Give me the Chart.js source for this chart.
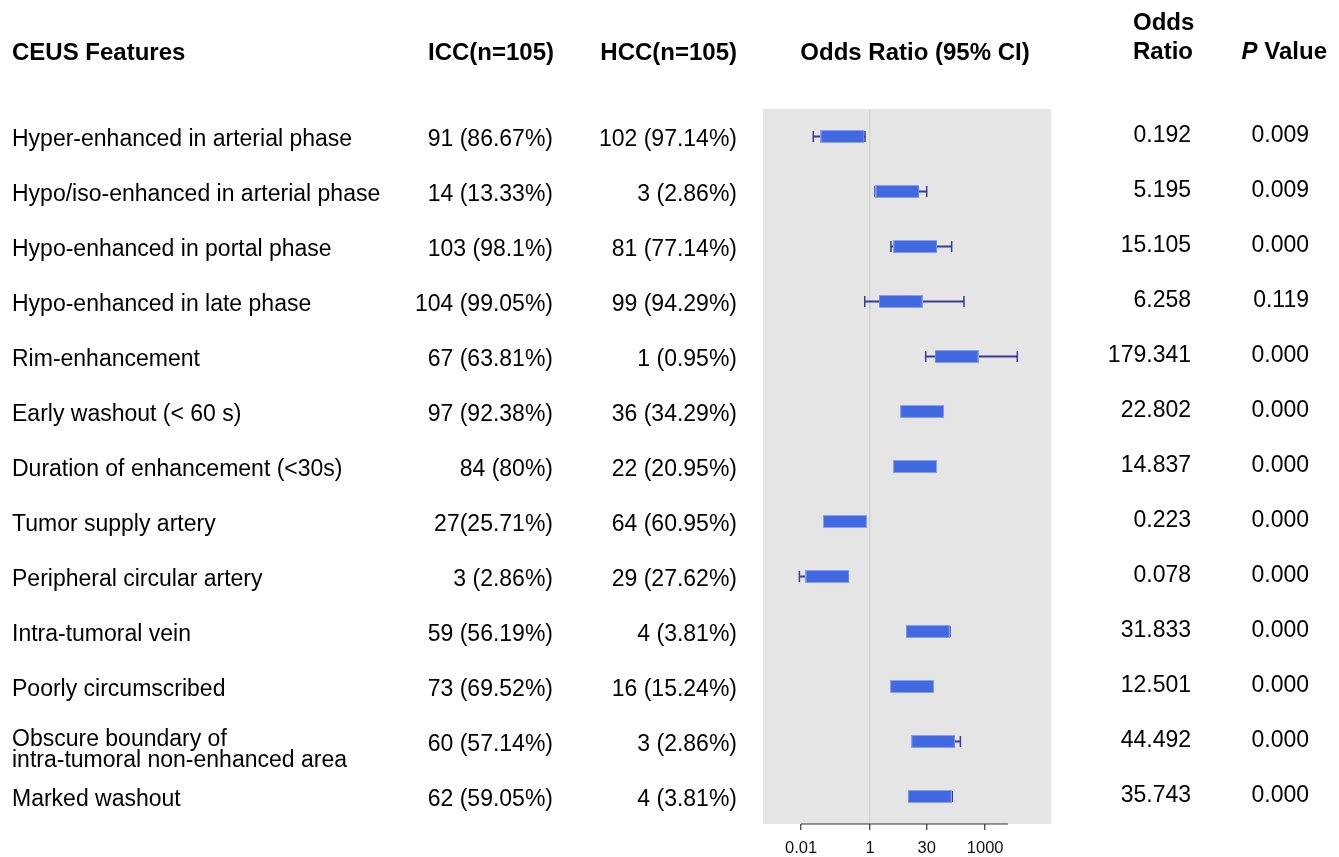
<!DOCTYPE html>
<html>
<head>
<meta charset="utf-8">
<title>CEUS features - odds ratios</title>
<script src="https://cdn.jsdelivr.net/npm/chart.js@4.4.1/dist/chart.umd.min.js"></script>
<style>
  body { margin: 0; background: #fff; }
  #wrap { width: 1339px; height: 857px; position: relative; }
</style>
</head>
<body>
<div id="wrap"><canvas id="forest"></canvas></div>
<script>
const features = [
  "Hyper-enhanced in arterial phase",
  "Hypo/iso-enhanced in arterial phase",
  "Hypo-enhanced in portal phase",
  "Hypo-enhanced in late phase",
  "Rim-enhancement",
  "Early washout (< 60 s)",
  "Duration of enhancement (<30s)",
  "Tumor supply artery",
  "Peripheral circular artery",
  "Intra-tumoral vein",
  "Poorly circumscribed",
  "Obscure boundary of\nintra-tumoral non-enhanced area",
  "Marked washout"
];
const iccText = ["91 (86.67%)", "14 (13.33%)", "103 (98.1%)", "104 (99.05%)", "67 (63.81%)", "97 (92.38%)",
  "84 (80%)", "27(25.71%)", "3 (2.86%)", "59 (56.19%)", "73 (69.52%)", "60 (57.14%)", "62 (59.05%)"];
const hccText = ["102 (97.14%)", "3 (2.86%)", "81 (77.14%)", "99 (94.29%)", "1 (0.95%)", "36 (34.29%)",
  "22 (20.95%)", "64 (60.95%)", "29 (27.62%)", "4 (3.81%)", "16 (15.24%)", "3 (2.86%)", "4 (3.81%)"];
const oddsRatio = [0.192, 5.195, 15.105, 6.258, 179.341, 22.802, 14.837, 0.223, 0.078, 31.833, 12.501, 44.492, 35.743];
const ciLower = [0.0334, 1.35, 3.52, 0.73, 28.2, 10.2, 7.6, 0.123, 0.0145, 11.1, 5.5, 13.5, 12.5];
const ciUpper = [0.74, 30, 134, 280, 6860, 51, 29, 0.40, 0.26, 121, 28, 226, 139];
const pValues = ["0.009", "0.009", "0.000", "0.119", "0.000", "0.000", "0.000",
  "0.000", "0.000", "0.000", "0.000", "0.000", "0.000"];
const tickValues = [0.016, 1, 30, 1000];
const tickLabels = ["0.01", "1", "30", "1000"];
const axisSpan = [0.016, 3900];

const FONT = '"Liberation Sans", Arial, sans-serif';
const BOX = '#4169e1';
const WHISKER = '#3a3a9a';

// fixed size box marker, drawn centred on the odds ratio
const boxMark = document.createElement('canvas');
boxMark.width = 44;
boxMark.height = 13;
const bctx = boxMark.getContext('2d');
bctx.fillStyle = '#8aa0ee';
bctx.fillRect(0, 0, 44, 13);
bctx.fillStyle = BOX;
bctx.fillRect(1, 1, 42, 11);

const capPoints = ciLower.map((v, i) => ({ x: v, y: features[i] }))
  .concat(ciUpper.map((v, i) => ({ x: v, y: features[i] })));

const panelBg = {
  id: 'panelBg',
  beforeDraw(chart) {
    const { ctx, chartArea: a } = chart;
    ctx.save();
    ctx.fillStyle = '#e5e5e5';
    ctx.fillRect(a.left, a.top, a.right - a.left, a.bottom - a.top);
    ctx.restore();
  },
  beforeDatasetsDraw(chart) {
    const { ctx, chartArea: a } = chart;
    const x = chart.scales.x;
    ctx.save();
    ctx.strokeStyle = '#333';
    ctx.lineWidth = 1.2;
    ctx.beginPath();
    ctx.moveTo(x.getPixelForValue(axisSpan[0]), a.bottom);
    ctx.lineTo(x.getPixelForValue(axisSpan[1]), a.bottom);
    ctx.stroke();
    ctx.restore();
  }
};

const tableText = {
  id: 'tableText',
  afterDraw(chart) {
    const ctx = chart.ctx;
    const y = chart.scales.y;
    ctx.save();
    ctx.fillStyle = '#000';
    ctx.textBaseline = 'middle';

    ctx.font = `bold 24px ${FONT}`;
    ctx.textAlign = 'left';
    ctx.fillText('CEUS Features', 12, 53);
    ctx.fillText('Odds', 1133, 23.5);
    ctx.fillText('Ratio', 1133, 52);
    ctx.textAlign = 'right';
    ctx.fillText('ICC(n=105)', 554, 53);
    ctx.fillText('HCC(n=105)', 737, 53);
    ctx.textAlign = 'center';
    ctx.fillText('Odds Ratio (95% CI)', 915, 53);

    // "P Value" with italic P
    ctx.textAlign = 'left';
    ctx.font = `italic bold 24px ${FONT}`;
    const wP = ctx.measureText('P').width;
    ctx.font = `bold 24px ${FONT}`;
    const wV = ctx.measureText(' Value').width;
    const px = 1327 - wP - wV;
    ctx.font = `italic bold 24px ${FONT}`;
    ctx.fillText('P', px, 52);
    ctx.font = `bold 24px ${FONT}`;
    ctx.fillText(' Value', px + wP, 52);

    ctx.font = `23px ${FONT}`;
    features.forEach((f, i) => {
      const py = y.getPixelForValue(i);
      const lines = f.split('\n');
      const top = py + 3 - (lines.length - 1) * 5;
      ctx.textAlign = 'left';
      lines.forEach((ln, k) => ctx.fillText(ln, 12, top + k * 21));
      ctx.textAlign = 'right';
      ctx.fillText(iccText[i], 553, py + 3);
      ctx.fillText(hccText[i], 737, py + 3);
      ctx.fillText(oddsRatio[i].toFixed(3), 1191, py - 0.5);
      ctx.fillText(pValues[i], 1309, py - 0.5);
    });
    ctx.restore();
  }
};

new Chart(document.getElementById('forest'), {
  type: 'bar',
  data: {
    labels: features,
    datasets: [
      {
        type: 'scatter',
        label: 'Odds ratio',
        data: oddsRatio.map((v, i) => ({ x: v, y: features[i] })),
        pointStyle: boxMark,
        pointRadius: 6,
        order: 0
      },
      {
        type: 'scatter',
        label: 'CI caps',
        data: capPoints,
        pointStyle: 'line',
        pointRotation: 90,
        pointRadius: 5.5,
        pointBorderColor: WHISKER,
        pointBorderWidth: 1.5,
        order: 1
      },
      {
        label: '95% CI',
        data: ciLower.map((lo, i) => [lo, ciUpper[i]]),
        backgroundColor: WHISKER,
        borderWidth: 0,
        barThickness: 1.5,
        order: 2
      }
    ]
  },
  options: {
    indexAxis: 'y',
    responsive: true,
    maintainAspectRatio: false,
    animation: false,
    layout: { padding: { left: 763, right: 288, top: 109, bottom: 0 } },
    plugins: { legend: { display: false }, tooltip: { enabled: false } },
    scales: {
      x: {
        type: 'logarithmic',
        min: 0.001636,
        max: 51760,
        bounds: 'data',
        afterBuildTicks: axis => { axis.ticks = tickValues.map(v => ({ value: v })); },
        afterFit: axis => { axis.height = 33; },
        border: { display: false },
        grid: {
          color: c => (c.tick && c.tick.value === 1 ? '#d3d3d3' : 'rgba(0,0,0,0)'),
          lineWidth: 1.5,
          tickColor: '#333',
          tickWidth: 1.2,
          tickLength: 6
        },
        ticks: {
          autoSkip: false,
          maxRotation: 0,
          padding: 9,
          color: '#111',
          font: { family: FONT, size: 16.5 },
          callback: (v, i) => tickLabels[i]
        }
      },
      y: {
        type: 'category',
        display: false,
        offset: true,
        grid: { display: false }
      }
    }
  },
  plugins: [panelBg, tableText]
});
</script>
</body>
</html>
